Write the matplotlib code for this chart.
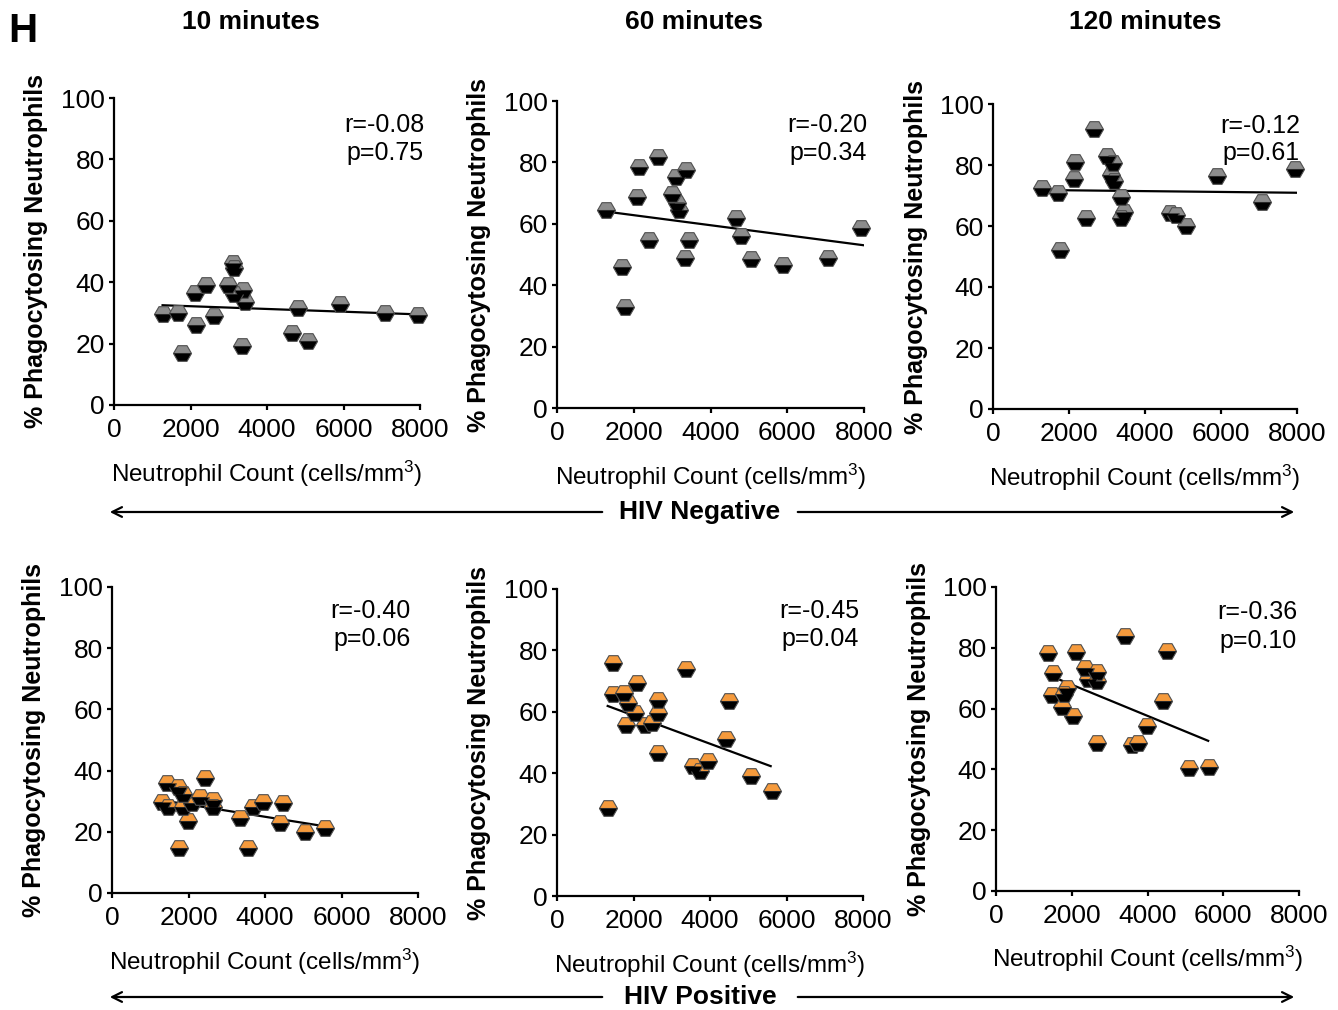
import matplotlib
matplotlib.use("Agg")
import matplotlib.pyplot as plt
import numpy as np

plt.rcParams['font.family'] = ['Liberation Sans', 'DejaVu Sans']
plt.rcParams['mathtext.fontset'] = 'custom'
plt.rcParams['mathtext.rm'] = 'Liberation Sans'
plt.rcParams['mathtext.it'] = 'Liberation Sans:italic'
plt.rcParams['mathtext.bf'] = 'Liberation Sans:bold'

# ---------------- data ----------------
col_titles = ["10 minutes", "60 minutes", "120 minutes"]
group_labels = ["HIV Negative", "HIV Positive"]

neg10_x = [1273, 1681, 2118, 2397, 2144, 2623, 1769, 3103, 3130, 2989, 3364, 3146, 3425, 3337, 4802, 4662, 5072, 5908, 7085, 7955]
neg10_y = [29.6, 30.0, 36.4, 39.0, 26.0, 29.0, 17.0, 46.3, 44.5, 39.0, 37.5, 36.0, 33.6, 19.2, 31.5, 23.3, 21.0, 33.0, 30.0, 29.3]
neg60_x = [1276, 2143, 2622, 2092, 3351, 3091, 3003, 3133, 3177, 2404, 3429, 3333, 1701, 1771, 4653, 4784, 5052, 5894, 7066, 7934]
neg60_y = [64.5, 78.6, 81.9, 68.8, 77.5, 75.3, 69.7, 66.9, 64.5, 54.7, 54.7, 48.8, 46.0, 33.0, 61.8, 56.0, 48.4, 46.6, 49.0, 58.7]
neg120_x = [1281, 1719, 1763, 2158, 2140, 2439, 2658, 3008, 3166, 3105, 3192, 3368, 3447, 3360, 4658, 4808, 5071, 5903, 7071, 7947]
neg120_y = [72.4, 70.9, 52.0, 81.1, 75.3, 62.5, 91.8, 83.0, 80.8, 76.7, 74.8, 69.6, 64.7, 62.7, 64.4, 63.6, 60.0, 76.4, 68.0, 78.6]

pos10_x = [1429, 1716, 2431, 1848, 1298, 1473, 1848, 2083, 2301, 2632, 2632, 1995, 1760, 3346, 3695, 3957, 4462, 3564, 4392, 5046, 5569]
pos10_y = [35.8, 34.7, 37.7, 32.5, 29.8, 28.2, 28.2, 29.3, 31.5, 30.4, 28.2, 23.5, 14.6, 24.4, 28.2, 29.8, 29.3, 14.6, 23.0, 20.0, 21.1]
pos60_x = [1473, 2083, 1473, 1760, 1865, 2039, 1804, 2301, 2475, 2649, 2649, 3373, 2649, 1341, 4505, 4418, 3956, 3564, 3739, 5072, 5629]
pos60_y = [76.0, 69.5, 65.7, 66.2, 62.8, 59.7, 55.7, 55.7, 56.2, 63.8, 59.7, 74.1, 46.7, 28.6, 63.5, 51.0, 44.0, 42.3, 40.7, 39.0, 34.2]
pos120_x = [1363, 2111, 3404, 4503, 1512, 2348, 2673, 2436, 2673, 1865, 1469, 1794, 1750, 2040, 4414, 3976, 2657, 3580, 3755, 5092, 5620]
pos120_y = [78.2, 78.7, 83.9, 78.9, 71.8, 73.5, 72.1, 69.6, 69.1, 66.7, 64.5, 64.8, 60.4, 57.7, 62.5, 54.3, 48.6, 48.0, 48.6, 40.4, 40.9]

# fitted regression line end points
fit_x = [[1270, 8000], [1270, 8000], [1280, 8000], [1298, 5613], [1325, 5586], [1662, 5602]]
fit_y = [[32.5, 29.5], [64.0, 53.0], [71.8, 70.9], [30.3, 21.7], [61.9, 42.3], [69.6, 49.4]]

r_texts = ["r=-0.08", "r=-0.20", "r=-0.12", "r=-0.40", "r=-0.45", "r=-0.36"]
p_texts = ["p=0.75", "p=0.34", "p=0.61", "p=0.06", "p=0.04", "p=0.10"]

x_ticks = [0, 2000, 4000, 6000, 8000]
y_ticks = [0, 20, 40, 60, 80, 100]

xs = [neg10_x, neg60_x, neg120_x, pos10_x, pos60_x, pos120_x]
ys = [neg10_y, neg60_y, neg120_y, pos10_y, pos60_y, pos120_y]
top_colors = ["#8c8c8c"] * 3 + ["#f59a3c"] * 3

# ---------------- layout ----------------
W, H = 1338, 1010
fig = plt.figure(figsize=(W / 100, H / 100), dpi=100)

# axes boxes in pixels: left, right(x=8000), top(y=100), bottom(y=0)
boxes = [(114, 420, 98, 405), (557, 864, 101, 408), (993, 1297, 104, 409),
         (112, 418, 587, 893), (557, 863, 589, 896), (996, 1299, 587, 891)]
text_right = [424, 867, 1300, 411, 859, 1297]
r_y = [125, 125, 126, 611, 611, 612]
p_y = [153, 153, 153, 639, 639, 641]

for i in range(6):
    l, r, t, b = boxes[i]
    ax = fig.add_axes([l / W, 1 - b / H, (r - l) / W, (b - t) / H])
    ax.set_xlim(0, 8000)
    ax.set_ylim(0, 100)
    for s in ['top', 'right']:
        ax.spines[s].set_visible(False)
    for s in ['left', 'bottom']:
        ax.spines[s].set_linewidth(1.6)
    ax.set_xticks(x_ticks)
    ax.set_yticks(y_ticks)
    ax.tick_params(direction='out', length=3.5, width=1.6, labelsize=19)
    ax.tick_params(axis='x', pad=6)
    ax.tick_params(axis='y', pad=3)
    ax.plot(fit_x[i], fit_y[i], color='black', lw=1.6, zorder=2)
    ax.plot(xs[i], ys[i], linestyle='none', marker='H', markersize=13,
            fillstyle='top', markerfacecolor=top_colors[i],
            markerfacecoloralt='black', markeredgecolor='#505050',
            markeredgewidth=0.8, clip_on=False, zorder=3)
    ax.set_ylabel("% Phagocytosing Neutrophils", fontsize=18, fontweight='bold')
    ax.yaxis.set_label_coords(-0.215, 0.5)
    ax.set_xlabel(r"Neutrophil Count (cells/mm$^{\mathregular{3}}$)", fontsize=17.5)
    ax.xaxis.set_label_coords(0.5, -0.175)
    fig.text(text_right[i] / W, 1 - r_y[i] / H, r_texts[i],
             ha='right', va='center', fontsize=18)
    fig.text(text_right[i] / W, 1 - p_y[i] / H, p_texts[i],
             ha='right', va='center', fontsize=18)

# column titles
for cx, title in zip([251, 694, 1145], col_titles):
    fig.text(cx / W, 1 - 22 / H, title, ha='center', va='center', fontsize=19, fontweight='bold')

fig.text(8 / W, 1 - 31 / H, "H", ha='left', va='center', fontsize=29, fontweight='bold')

# group arrows
for yy, lab in zip([512, 997], group_labels):
    fy = 1 - yy / H
    fig.text(700 / W, fy, lab, ha='center', va='center', fontsize=19, fontweight='bold')
    fig.add_artist(matplotlib.patches.FancyArrowPatch(
        (605 / W, fy), (107 / W, fy), transform=fig.transFigure,
        arrowstyle='->,head_length=7,head_width=3.5', color='black', lw=1.6, mutation_scale=1))
    fig.add_artist(matplotlib.patches.FancyArrowPatch(
        (795 / W, fy), (1297 / W, fy), transform=fig.transFigure,
        arrowstyle='->,head_length=7,head_width=3.5', color='black', lw=1.6, mutation_scale=1))

fig.savefig("out.png", dpi=100, facecolor='white')
